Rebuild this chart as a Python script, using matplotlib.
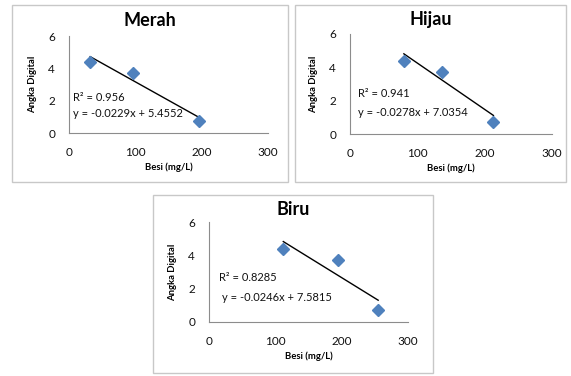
import matplotlib
matplotlib.use("Agg")
import matplotlib.pyplot as plt
from matplotlib.patches import Rectangle

plt.rcParams["font.family"] = ["Lato", "DejaVu Sans"]

W, H = 571, 376

titles = ["Merah", "Hijau", "Biru"]
besi = [[32, 97, 196], [80, 137, 213], [112, 195, 255]]
angka = [[4.4, 3.7, 0.75], [4.4, 3.7, 0.75], [4.4, 3.7, 0.75]]
slopes = [-0.0229, -0.0278, -0.0246]
intercepts = [5.4552, 7.0354, 7.5815]
r2_labels = ["R² = 0.956", "R² = 0.941", "R² = 0.8285"]
eq_labels = ["y = -0.0229x + 5.4552", "y = -0.0278x + 7.0354", "y = -0.0246x + 7.5815"]
xticks = [0, 100, 200, 300]
yticks = [0, 2, 4, 6]

# pixel boxes: (left, top, right, bottom)
frames = [(12, 5, 288, 182), (295, 5, 566, 182), (153, 195, 433, 373)]
axboxes = [(69, 36, 268, 133), (350, 34, 552, 134), (209, 222, 408, 322)]
title_y = [21, 20, 210]
text_pos = [((6, 2.2), (6, 1.2)), ((12, 2.45), (12, 1.3)), ((15, 2.65), (20, 1.45))]


def fig_rect(box):
    l, t, r, b = box
    return [l / W, 1 - b / H, (r - l) / W, (b - t) / H]


fig = plt.figure(figsize=(W / 100, H / 100), dpi=100)

for box in frames:
    l, t, r, b = box
    fig.patches.append(Rectangle((l / W, 1 - b / H), (r - l) / W, (b - t) / H,
                                 transform=fig.transFigure, fill=False,
                                 edgecolor="#c8c8c8", linewidth=1.0))

for i in range(3):
    ax = fig.add_axes(fig_rect(axboxes[i]))
    xs, ys = besi[i], angka[i]
    ax.plot(xs, ys, "D", color="#4f81bd", markersize=6.5, zorder=3)
    tx = [min(xs), max(xs)]
    ax.plot(tx, [slopes[i] * x + intercepts[i] for x in tx], color="black", linewidth=1.0)
    (rx, ry), (ex, ey) = text_pos[i]
    ax.text(rx, ry, r2_labels[i], fontsize=8, va="center", color="#111111")
    ax.text(ex, ey, eq_labels[i], fontsize=8, va="center", color="#111111")
    ax.set_xlim(0, 300)
    ax.set_ylim(0, 6)
    ax.set_xticks(xticks)
    ax.set_yticks(yticks)
    ax.tick_params(length=0, labelsize=8.5, colors="#111111")
    ax.tick_params(axis="x", pad=10)
    ax.tick_params(axis="y", pad=10)
    for s in ["top", "right"]:
        ax.spines[s].set_visible(False)
    for s in ["left", "bottom"]:
        ax.spines[s].set_color("#8c8c8c")
        ax.spines[s].set_linewidth(0.8)
    l, t, r, b = frames[i]
    fig.text((l + r) / 2 / W, 1 - title_y[i] / H, titles[i], fontsize=13,
             fontweight="bold", ha="center", va="center")
    ax.set_xlabel("Besi (mg/L)", fontsize=6.8, fontweight="bold", labelpad=3)
    ax.set_ylabel("Angka Digital", fontsize=6.8, fontweight="bold", labelpad=8)

fig.savefig("out.png", dpi=100)
